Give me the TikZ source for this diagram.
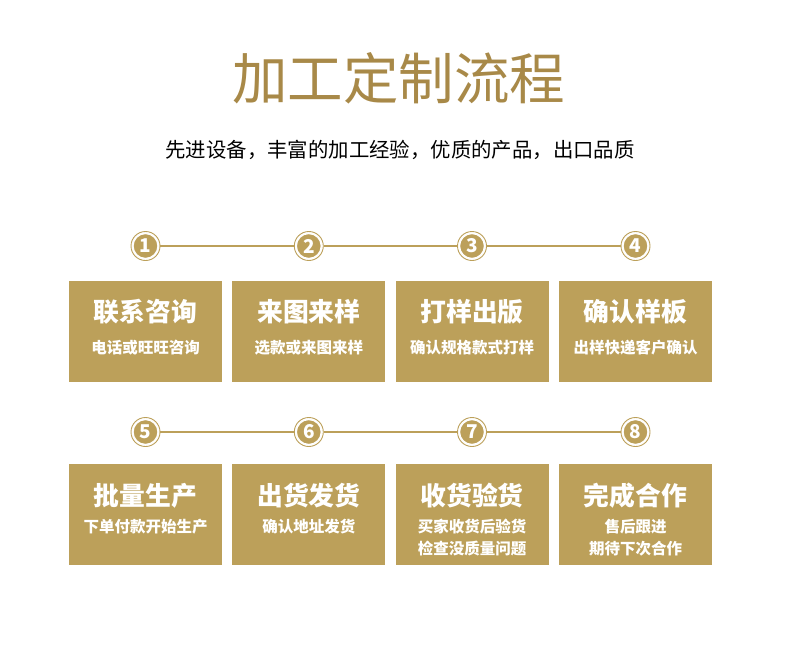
\documentclass[tikz,border=0pt]{standalone}
\usepackage{fontspec}
\newfontfamily\cjk{Noto Sans CJK SC}
\definecolor{gold}{RGB}{188,160,90}
\definecolor{titlegold}{RGB}{168,137,72}
\begin{document}
\begin{tikzpicture}[x=1pt,y=-1pt,
  box/.style={fill=gold,draw=none,minimum width=153pt,minimum height=101pt,inner sep=0pt},
  boxtitle/.style={text=white,font=\cjk\bfseries\fontsize{25.8}{25.8}\selectfont,inner sep=0pt},
  boxsub/.style={text=white,font=\cjk\bfseries\fontsize{15.5}{22}\selectfont,inner sep=0pt,align=center},
  numc/.style={circle,fill=gold,draw=white,line width=1.3pt,minimum size=25pt,inner sep=0pt,text=white,font=\cjk\bfseries\fontsize{19}{19}\selectfont},
  ring/.style={circle,draw=gold,line width=0.9pt,minimum size=29pt,inner sep=0pt},
  link/.style={draw=gold,line width=1.8pt}]
\useasboundingbox (0,0) rectangle (790,656);
\fill[white] (0,0) rectangle (790,656);
\node[text=titlegold,font=\cjk\fontsize{55.5}{55.5}\selectfont,inner sep=0pt] (title) at (398.5,78) {加工定制流程};
\node[font=\cjk\fontsize{20.4}{21}\selectfont,inner sep=0pt] (subtitle) at (400,150) {先进设备，丰富的加工经验，优质的产品，出口品质};
% row 1
\foreach \i/\x in {1/145.5,2/308.8,3/472,4/635.5}{
  \node[ring] (r\i) at (\x,246) {};
}
\draw[link] (r1) -- (r2);
\draw[link] (r2) -- (r3);
\draw[link] (r3) -- (r4);
\foreach \i/\x in {1/145.5,2/308.8,3/472,4/635.5}{
  \node[numc] (c\i) at (\x,246) {\i};
}
% row 2
\foreach \i/\x in {5/145.5,6/308.8,7/472,8/635.5}{
  \node[ring] (r\i) at (\x,432) {};
}
\draw[link] (r5) -- (r6);
\draw[link] (r6) -- (r7);
\draw[link] (r7) -- (r8);
\foreach \i/\x in {5/145.5,6/308.8,7/472,8/635.5}{
  \node[numc] (c\i) at (\x,432) {\i};
}
% boxes row 1
\node[box] (b1) at (145.5,331.5) {};
\node[box] (b2) at (308.8,331.5) {};
\node[box] (b3) at (472,331.5) {};
\node[box] (b4) at (635.5,331.5) {};
\node[boxtitle] (t1) at (145.5,312) {联系咨询};
\node[boxtitle] (t2) at (308.8,312) {来图来样};
\node[boxtitle] (t3) at (472,312) {打样出版};
\node[boxtitle] (t4) at (635.5,312) {确认样板};
\node[boxsub] (s1) at (145.5,348) {电话或旺旺咨询};
\node[boxsub] (s2) at (308.8,348) {选款或来图来样};
\node[boxsub] (s3) at (472,348) {确认规格款式打样};
\node[boxsub] (s4) at (635.5,348) {出样快递客户确认};
% boxes row 2
\node[box] (b5) at (145.5,514.5) {};
\node[box] (b6) at (308.8,514.5) {};
\node[box] (b7) at (472,514.5) {};
\node[box] (b8) at (635.5,514.5) {};
\node[boxtitle] (t5) at (145.5,496) {批量生产};
\node[boxtitle] (t6) at (308.8,496) {出货发货};
\node[boxtitle] (t7) at (472,496) {收货验货};
\node[boxtitle] (t8) at (635.5,496) {完成合作};
\node[boxsub] (s5) at (145.5,527) {下单付款开始生产};
\node[boxsub] (s6) at (308.8,527) {确认地址发货};
\node[boxsub] (s7) at (472,538) {买家收货后验货\\检查没质量问题};
\node[boxsub] (s8) at (635.5,538) {售后跟进\\期待下次合作};
\end{tikzpicture}
\end{document}
